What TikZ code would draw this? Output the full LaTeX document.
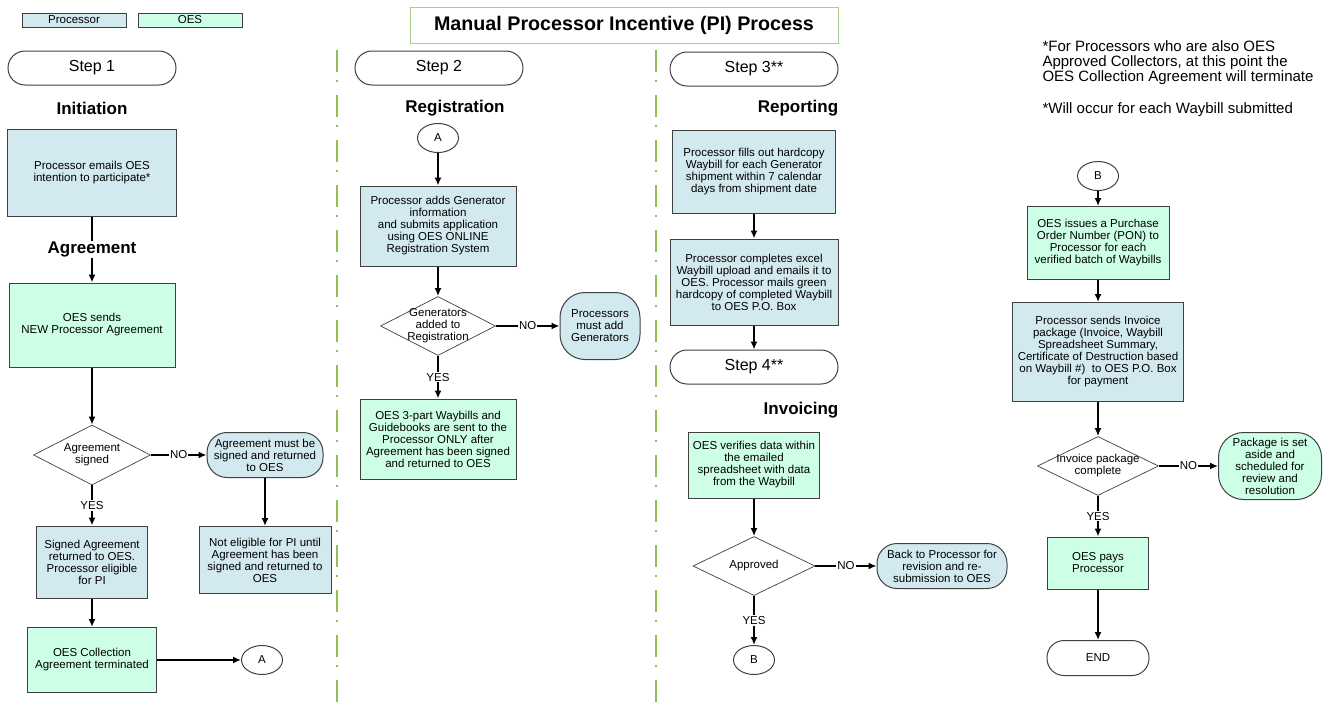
\documentclass[tikz,border=0pt]{standalone}
\usepackage{fontspec}
\setmainfont{Liberation Sans}
\usetikzlibrary{shapes.geometric,arrows.meta}

\definecolor{procblue}{RGB}{211,233,240}
\definecolor{oesgreen}{RGB}{204,255,229}
\definecolor{edgegray}{RGB}{64,64,64}
\definecolor{sepgreen}{RGB}{146,190,82}
\definecolor{titlegreen}{RGB}{170,206,140}

\newcommand{\boxfont}{\fontsize{11.5}{12}\selectfont}
\newcommand{\dtext}[1]{\smash{\makebox[0pt]{\raisebox{-3.5pt}{\begin{tabular}{@{}c@{}}#1\end{tabular}}}}}

\tikzset{
  proc/.style={rectangle, draw=edgegray, fill=procblue, line width=1pt, inner sep=0pt, align=center, font=\boxfont},
  oes/.style={proc, fill=oesgreen},
  stepbox/.style={rectangle, rounded corners=17pt, draw=edgegray, line width=1pt, minimum width=168pt, minimum height=34pt, font=\fontsize{16}{18}\selectfont},
  decision/.style={diamond, draw=edgegray, line width=0.7pt, fill=white, inner sep=0pt, font=\boxfont},
  connector/.style={ellipse, draw=edgegray, line width=1pt, minimum width=41pt, minimum height=29pt, inner sep=0pt, font=\boxfont},
  phase/.style={font=\fontsize{17}{18}\selectfont\bfseries},
  answer/.style={fill=white, inner sep=1pt, font=\boxfont},
  arr/.style={-{Latex[length=8pt,width=7pt]}, line width=1.6pt},
  separator/.style={sepgreen, line width=2.5pt, dash pattern=on 22pt off 8pt on 2pt off 13pt}
}

\begin{document}
\begin{tikzpicture}[x=1pt, y=-1pt]
        \useasboundingbox (0,0) rectangle (1326,704);

        % separators
        \draw[separator] (337,50) -- (337,704);
        \draw[separator] (656,50) -- (656,704);

        % legend and title
        \node[proc, minimum width=104pt, minimum height=14pt] (legproc) at (74,20) {Processor};
        \node[oes, minimum width=104pt, minimum height=14pt] (legoes) at (190,20) {OES};
        \node[draw=titlegreen, line width=0.8pt, minimum width=428pt, minimum height=36pt, font=\fontsize{19.7}{21}\selectfont\bfseries] (title) at (624,25) {Manual Processor Incentive (PI) Process};

        % notes
        \node[anchor=west, align=left, font=\fontsize{15}{15}\selectfont] (note1) at (1039,63) {*For Processors who are also OES\\Approved Collectors, at this point the\\OES Collection Agreement will terminate};
        \node[anchor=west, font=\fontsize{15}{15}\selectfont] (note2) at (1039,110) {*Will occur for each Waybill submitted};

        % step 1
        \node[stepbox] (step1) at (92,68) {Step 1};
        \node[phase] (initiation) at (92,108) {Initiation};
        \node[proc, minimum width=169pt, minimum height=87pt] (emails) at (92,173) {Processor emails OES\\intention to participate*};
        \node[oes, minimum width=166pt, minimum height=84pt] (sends) at (92,325) {OES sends\\NEW Processor Agreement};
        \node[decision, minimum width=117pt, minimum height=60pt] (signed) at (92,455) {\dtext{Agreement\\signed}};
        \node[proc, rounded corners=20pt, minimum width=116pt, minimum height=45pt] (mustsign) at (265,455) {Agreement must be\\signed and returned\\to OES};
        \node[proc, minimum width=132pt, minimum height=67pt] (noteligible) at (265,560) {Not eligible for PI until\\Agreement has been\\signed and returned to\\OES};
        \node[proc, minimum width=111pt, minimum height=72pt] (eligible) at (92,562) {Signed Agreement\\returned to OES.\\Processor eligible\\for PI};
        \node[oes, minimum width=129pt, minimum height=65pt] (terminated) at (92,660) {OES Collection\\Agreement terminated};
        \node[connector] (toA) at (262,660) {A};

        \draw[arr] (emails) -- node[phase, fill=white, inner sep=1pt] (agreement) {Agreement} (sends);
        \draw[arr] (sends) -- (signed);
        \draw[arr] (signed) -- node[answer] (no1) {NO} (mustsign);
        \draw[arr] (signed) -- node[answer] (yes1) {YES} (eligible);
        \draw[arr] (mustsign) -- (noteligible);
        \draw[arr] (eligible) -- (terminated);
        \draw[arr] (terminated) -- (toA);

        % step 2
        \node[stepbox] (step2) at (439,68) {Step 2};
        \node[phase] (registration) at (455,108) {Registration};
        \node[connector] (fromA) at (438,138) {A};
        \node[proc, minimum width=156pt, minimum height=80pt] (adds) at (438,226) {Processor adds Generator\\information\\and submits application\\using OES ONLINE\\Registration System};
        \node[decision, minimum width=115pt, minimum height=59pt] (added) at (438,326) {\dtext{Generators\\added to\\Registration}};
        \node[proc, rounded corners=25pt, minimum width=80pt, minimum height=67pt] (mustadd) at (600,326) {Processors\\must add\\Generators};
        \node[oes, minimum width=156pt, minimum height=80pt] (waybills) at (438,439) {OES 3-part Waybills and\\Guidebooks are sent to the\\Processor ONLY after\\Agreement has been signed\\and returned to OES};

        \draw[arr] (fromA) -- (adds);
        \draw[arr] (adds) -- (added);
        \draw[arr] (added) -- node[answer] (no2) {NO} (mustadd);
        \draw[arr] (added) -- node[answer] (yes2) {YES} (waybills);

        % step 3
        \node[stepbox] (step3) at (754,69) {Step 3**};
        \node[phase] (reporting) at (798,108) {Reporting};
        \node[proc, minimum width=163pt, minimum height=83pt] (fills) at (754,172) {Processor fills out hardcopy\\Waybill for each Generator\\shipment within 7 calendar\\days from shipment date};
        \node[proc, minimum width=168pt, minimum height=86pt] (completes) at (754,282) {Processor completes excel\\Waybill upload and emails it to\\OES. Processor mails green\\hardcopy of completed Waybill\\to OES P.O. Box};
        \node[stepbox] (step4) at (754,367) {Step 4**};

        \draw[arr] (fills) -- (completes);
        \draw[arr] (completes) -- (step4);

        % step 4
        \node[phase] (invoicing) at (801,410) {Invoicing};
        \node[oes, minimum width=131pt, minimum height=66pt] (verifies) at (754,465) {OES verifies data within\\the emailed\\spreadsheet with data\\from the Waybill};
        \node[decision, minimum width=122pt, minimum height=59pt] (approved) at (754,566) {\dtext{Approved}};
        \node[proc, rounded corners=20pt, minimum width=130pt, minimum height=45pt] (backto) at (942,566) {Back to Processor for\\revision and re-\\submission to OES};
        \node[connector] (toB) at (754,660) {B};

        \draw[arr] (verifies) -- (approved);
        \draw[arr] (approved) -- node[answer] (no3) {NO} (backto);
        \draw[arr] (approved) -- node[answer] (yes3) {YES} (toB);

        % payment
        \node[connector] (fromB) at (1098,176) {B};
        \node[oes, minimum width=142pt, minimum height=73pt] (issues) at (1098,243) {OES issues a Purchase\\Order Number (PON) to\\Processor for each\\verified batch of Waybills};
        \node[proc, minimum width=171pt, minimum height=99pt] (sendsinv) at (1098,352) {Processor sends Invoice\\package (Invoice, Waybill\\Spreadsheet Summary,\\Certificate of Destruction based\\on Waybill \#)~ to OES P.O. Box\\for payment};
        \node[decision, minimum width=121pt, minimum height=59pt] (complete) at (1098,466) {\dtext{Invoice package\\complete}};
        \node[oes, rounded corners=25pt, minimum width=103pt, minimum height=67pt] (setaside) at (1270,466) {Package is set\\aside and\\scheduled for\\review and\\resolution};
        \node[oes, minimum width=101pt, minimum height=52pt] (pays) at (1098,563) {OES pays\\Processor};
        \node[stepbox, minimum width=102pt, minimum height=35pt, font=\boxfont] (theend) at (1098,658) {END};

        \draw[arr] (fromB) -- (issues);
        \draw[arr] (issues) -- (sendsinv);
        \draw[arr] (sendsinv) -- (complete);
        \draw[arr] (complete) -- node[answer] (no4) {NO} (setaside);
        \draw[arr] (complete) -- node[answer] (yes4) {YES} (pays);
        \draw[arr] (pays) -- (theend);
    \end{tikzpicture}
\end{document}
